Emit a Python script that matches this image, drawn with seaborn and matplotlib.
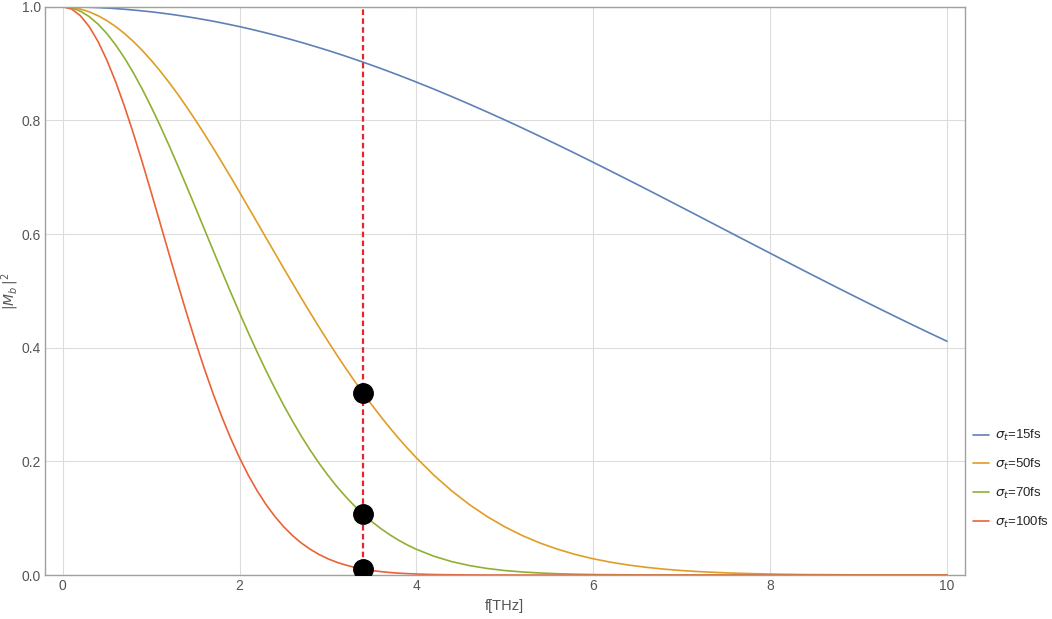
import matplotlib
matplotlib.use("Agg")
import matplotlib.pyplot as plt
import pandas as pd
import seaborn as sns
from matplotlib.ticker import MultipleLocator

# frequency grid, THz (finer where the curves bend hard)
freq = [0.0, 0.1, 0.2, 0.3, 0.4, 0.5, 0.6, 0.7, 0.8, 0.9,
        1.0, 1.1, 1.2, 1.3, 1.4, 1.5, 1.6, 1.7, 1.8, 1.9,
        2.0, 2.1, 2.2, 2.3, 2.4, 2.5, 2.6, 2.7, 2.8, 2.9,
        3.0, 3.1, 3.2, 3.3, 3.4, 3.5, 3.6, 3.7, 3.8, 3.9,
        4.0, 4.2, 4.4, 4.6, 4.8, 5.0, 5.2, 5.4, 5.6, 5.8,
        6.0, 6.2, 6.4, 6.6, 6.8, 7.0, 7.2, 7.4, 7.6, 7.8,
        8.0, 8.2, 8.4, 8.6, 8.8, 9.0, 9.2, 9.4, 9.6, 9.8, 10.0]

m_15fs = [1.0, 0.9999, 0.9996, 0.9992, 0.9986, 0.9978, 0.9968, 0.9957, 0.9943, 0.9928,
          0.9912, 0.9893, 0.9873, 0.9851, 0.9827, 0.9802, 0.9775, 0.9747, 0.9716, 0.9684,
          0.9651, 0.9616, 0.9579, 0.9541, 0.9501, 0.9460, 0.9417, 0.9373, 0.9327, 0.9280,
          0.9232, 0.9182, 0.9131, 0.9078, 0.9024, 0.8969, 0.8913, 0.8855, 0.8796, 0.8736,
          0.8675, 0.8550, 0.8420, 0.8286, 0.8149, 0.8009, 0.7865, 0.7718, 0.7569, 0.7417,
          0.7263, 0.7107, 0.6950, 0.6792, 0.6632, 0.6471, 0.6310, 0.6148, 0.5986, 0.5825,
          0.5664, 0.5503, 0.5343, 0.5184, 0.5026, 0.4870, 0.4715, 0.4562, 0.4410, 0.4261, 0.4114]

m_50fs = [1.0, 0.9990, 0.9961, 0.9912, 0.9843, 0.9756, 0.9651, 0.9528, 0.9388, 0.9232,
          0.9060, 0.8874, 0.8675, 0.8464, 0.8241, 0.8009, 0.7767, 0.7519, 0.7263, 0.7003,
          0.6738, 0.6471, 0.6202, 0.5933, 0.5664, 0.5396, 0.5132, 0.4870, 0.4613, 0.4360,
          0.4114, 0.3873, 0.3640, 0.3414, 0.3195, 0.2985, 0.2783, 0.2589, 0.2404, 0.2229,
          0.2062, 0.1754, 0.1480, 0.1239, 0.1029, 0.0848, 0.0693, 0.0562, 0.0453, 0.0361,
          0.0286, 0.0225, 0.0176, 0.0136, 0.0104, 0.0079, 0.0060, 0.0045, 0.0033, 0.0025,
          0.0018, 0.0013, 0.0009, 0.0007, 0.0005, 0.0003, 0.0002, 0.0002, 0.0001, 0.0001, 0.0001]

m_70fs = [1.0, 0.9981, 0.9923, 0.9827, 0.9695, 0.9528, 0.9327, 0.9096, 0.8836, 0.8550,
          0.8241, 0.7913, 0.7569, 0.7211, 0.6845, 0.6471, 0.6094, 0.5717, 0.5343, 0.4974,
          0.4613, 0.4261, 0.3921, 0.3594, 0.3282, 0.2985, 0.2705, 0.2441, 0.2195, 0.1966,
          0.1754, 0.1558, 0.1380, 0.1216, 0.1069, 0.0935, 0.0815, 0.0708, 0.0612, 0.0527,
          0.0453, 0.0330, 0.0236, 0.0167, 0.0116, 0.0079, 0.0054, 0.0036, 0.0023, 0.0015,
          0.0009, 0.0006, 0.0004, 0.0002, 0.0001, 0.0001, 0.0, 0.0, 0.0, 0.0,
          0.0, 0.0, 0.0, 0.0, 0.0, 0.0, 0.0, 0.0, 0.0, 0.0, 0.0]

m_100fs = [1.0, 0.9961, 0.9843, 0.9651, 0.9388, 0.9060, 0.8675, 0.8241, 0.7767, 0.7263,
           0.6738, 0.6202, 0.5664, 0.5132, 0.4613, 0.4114, 0.3640, 0.3195, 0.2783, 0.2404,
           0.2062, 0.1754, 0.1480, 0.1239, 0.1029, 0.0848, 0.0693, 0.0562, 0.0453, 0.0361,
           0.0286, 0.0225, 0.0176, 0.0136, 0.0104, 0.0079, 0.0060, 0.0045, 0.0033, 0.0025,
           0.0018, 0.0009, 0.0005, 0.0002, 0.0001, 0.0001, 0.0, 0.0, 0.0, 0.0,
           0.0, 0.0, 0.0, 0.0, 0.0, 0.0, 0.0, 0.0, 0.0, 0.0,
           0.0, 0.0, 0.0, 0.0, 0.0, 0.0, 0.0, 0.0, 0.0, 0.0, 0.0]

labels = [r'$\sigma_t$=15fs', r'$\sigma_t$=50fs', r'$\sigma_t$=70fs', r'$\sigma_t$=100fs']
colors = ['#5E81B5', '#E19C24', '#8FB032', '#EB6235']

# marked working point
f_mark = 3.4
dot_vals = [0.3195, 0.1069, 0.0104]

sns.set_style("white")
plt.rcParams['font.family'] = ['Liberation Sans', 'DejaVu Sans']
plt.rcParams['mathtext.fontset'] = 'dejavusans'

df = pd.DataFrame({'f': freq * 4,
                   'M': m_15fs + m_50fs + m_70fs + m_100fs,
                   'curve': sum([[lab] * len(freq) for lab in labels], [])})

fig = plt.figure(figsize=(10.52, 6.19), dpi=100)
ax = fig.add_axes([0.0428, 0.071, 0.8742, 0.918])

sns.lineplot(data=df, x='f', y='M', hue='curve', palette=colors,
             linewidth=1.2, ax=ax, legend=False)

ax.axvline(f_mark, color='#E8232A', lw=1.6, ls=(0, (2.5, 1.5)), zorder=3)
ax.plot([f_mark] * len(dot_vals), dot_vals, 'o', color='black', ms=14, zorder=4)

ax.set_xlim(-0.2, 10.2)
ax.set_ylim(0, 1.0)
ax.xaxis.set_major_locator(MultipleLocator(2))
ax.xaxis.set_minor_locator(MultipleLocator(0.5))
ax.yaxis.set_major_locator(MultipleLocator(0.2))
ax.yaxis.set_minor_locator(MultipleLocator(0.05))
ax.set_yticklabels(['%.1f' % v for v in ax.get_yticks()])
ax.grid(True, which='major', color='#dcdcdc', lw=0.8)
ax.tick_params(which='both', direction='in', colors='#999999', labelcolor='#555555',
               labelsize=10, pad=3)
ax.tick_params(which='major', length=4)
ax.tick_params(which='minor', length=2)
for s in ax.spines.values():
    s.set_color('#a0a0a0')
    s.set_linewidth(1.0)

ax.set_xlabel('f[THz]', color='#555555', fontsize=10.5)
ax.set_ylabel(r'$|M_b\,|^2$', color='#555555', fontsize=10)
ax.yaxis.set_label_coords(-0.026, 0.5)

handles = [plt.Line2D([], [], color=c, lw=1.2) for c in colors]
fig.legend(handles, labels, loc='center left', bbox_to_anchor=(0.914, 0.226),
           frameon=False, fontsize=9.5, handlelength=1.2, labelspacing=1.05,
           handletextpad=0.4)

fig.savefig('out.png', dpi=100)
